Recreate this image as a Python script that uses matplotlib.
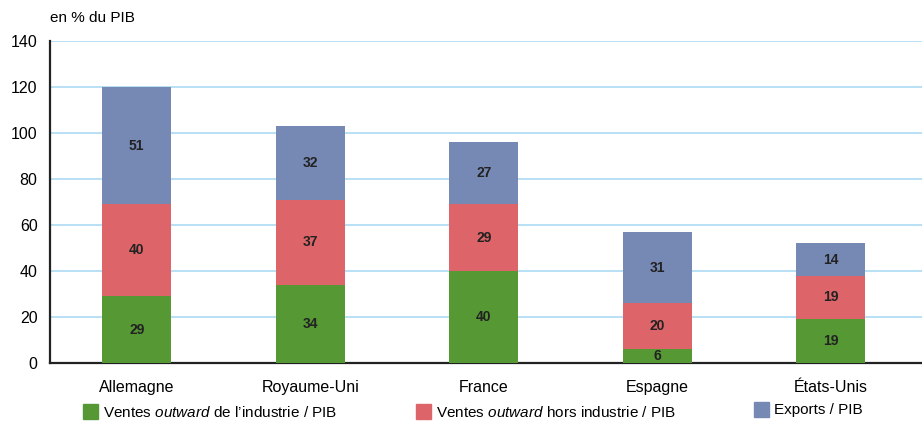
import matplotlib
matplotlib.use("Agg")
import matplotlib.pyplot as plt
import numpy as np

plt.rcParams['font.family'] = ['Liberation Sans', 'DejaVu Sans']
plt.rcParams['mathtext.fontset'] = 'custom'
plt.rcParams['mathtext.it'] = 'Liberation Sans:italic'
plt.rcParams['mathtext.rm'] = 'Liberation Sans'

countries = ["Allemagne", "Royaume-Uni", "France", "Espagne", "États-Unis"]
industrie = [29, 34, 40, 6, 19]
hors_industrie = [40, 37, 29, 20, 19]
exports = [51, 32, 27, 31, 14]
yticks = [0, 20, 40, 60, 80, 100, 120, 140]

series = [
    (industrie, "#559834", "Ventes $\\it{outward}$ de l\u2019industrie / PIB"),
    (hors_industrie, "#dd6468", "Ventes $\\it{outward}$ hors industrie / PIB"),
    (exports, "#7689b4", "Exports / PIB"),
]

fig = plt.figure(figsize=(9.22, 4.23), dpi=100)
ax = fig.add_axes([50 / 922, 1 - 363 / 423, 1 - 50 / 922, (363 - 41) / 423])

x = np.arange(len(countries))
bottom = np.zeros(len(countries))
for vals, color, label in series:
    vals = np.array(vals, dtype=float)
    ax.bar(x, vals, 0.40, bottom=bottom, color=color, zorder=3, label=label)
    for xi, v, bo in zip(x, vals, bottom):
        ax.text(xi, bo + v / 2, f"{int(v)}", ha="center", va="center",
                fontsize=10, fontweight="bold", color="#222222", zorder=4)
    bottom += vals

ax.set_xlim(-0.5, (922 - 50) / 173.5 - 0.5)
ax.set_ylim(0, 140)
ax.set_yticks(yticks)
ax.set_yticklabels([str(t) for t in yticks], fontsize=11.5)
ax.yaxis.grid(True, color="#b3ddf5", linewidth=1.3, zorder=0)
ax.set_axisbelow(True)
ax.tick_params(axis="both", length=0)
ax.tick_params(axis="y", pad=9)
ax.set_xticks(x)
ax.set_xticklabels(countries, fontsize=11.5)
ax.tick_params(axis="x", pad=12)
for s in ["top", "right"]:
    ax.spines[s].set_visible(False)
for s in ["left", "bottom"]:
    ax.spines[s].set_linewidth(1.6)
    ax.spines[s].set_color("#222222")

fig.text(50 / 922, 1 - 18 / 423, "en % du PIB", fontsize=11, va="center", ha="left")

# legend entries laid out along the bottom
legend_pos = [(83, 412), (416, 412), (754, 410)]
for (px, py), (vals, color, label) in zip(legend_pos, series):
    fig.patches.append(plt.Rectangle((px / 922, 1 - (py + 7) / 423), 15 / 922, 15 / 423,
                                     transform=fig.transFigure, color=color, figure=fig))
    fig.text((px + 20) / 922, 1 - py / 423, label, fontsize=11, va="center", ha="left")

fig.savefig("out.png", dpi=100)
